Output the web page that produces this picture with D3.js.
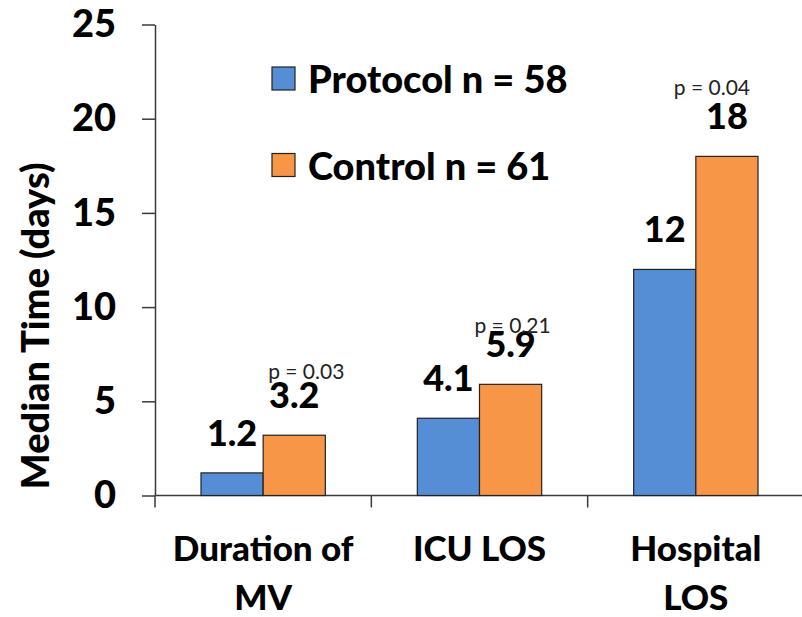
<!DOCTYPE html>
<html>
<head>
<meta charset="utf-8">
<script src="https://cdn.jsdelivr.net/npm/d3@7"></script>
<style>
  body { margin: 0; background: #fff; }
  text { font-family: Lato, "Open Sans", sans-serif; }
  .heavy { font-weight: 900; }
</style>
</head>
<body>
<div class="chart"></div>
<script>
// chart data
let categories = [["Duration of", "MV"], ["ICU LOS"], ["Hospital", "LOS"]];
let seriesNames = ["Protocol n = 58", "Control n = 61"];
let protocol = [1.2, 4.1, 12];
let control = [3.2, 5.9, 18];
let pLabels = ["p = 0.03", "p = 0.21", "p = 0.04"];
let yTicks = [0, 5, 10, 15, 20, 25];
let colors = ["#558ED5", "#F79646"];

// p labels were hand placed in the original, nudge them the same way
let pNudge = [[12, 56], [2, 51], [-15, 61]];

let w = 802;
let h = 617;

let svg = d3.select(".chart")
            .append("svg")
            .attr("width", w)
            .attr("height", h);

let x0 = d3.scaleBand()
  .domain(d3.range(categories.length))
  .range([155, 804]);

let x1 = d3.scaleBand()
  .domain([0, 1])
  .range([46, x0.bandwidth() - 46]);

let y = d3.scaleLinear()
  .domain([0, 25])
  .range([495.5, 24.5]);

// y axis
let yAxis = d3.axisLeft(y)
  .tickValues(yTicks)
  .tickSize(13)
  .tickPadding(26)
  .tickSizeOuter(0);

let gy = svg.append("g")
  .attr("transform", "translate(155,0)")
  .call(yAxis);
gy.select(".domain").attr("stroke", "#3a3a3a").attr("stroke-width", 1.5);
gy.selectAll(".tick line").attr("stroke", "#3a3a3a").attr("stroke-width", 1.5);
gy.selectAll(".tick text")
  .attr("class", "heavy")
  .attr("fill", "#000")
  .style("font-size", "38px")
  .style("font-family", "Lato, sans-serif");

// x axis line + band boundary ticks
svg.append("line")
  .attr("x1", 155).attr("x2", 802)
  .attr("y1", y(0)).attr("y2", y(0))
  .attr("stroke", "#3a3a3a").attr("stroke-width", 1.5);

svg.selectAll(".xtick")
  .data(d3.range(categories.length))
  .enter()
  .append("line")
  .attr("class", "xtick")
  .attr("x1", d => x0(d)).attr("x2", d => x0(d))
  .attr("y1", y(0)).attr("y2", y(0) + 12)
  .attr("stroke", "#3a3a3a").attr("stroke-width", 1.5);

// category labels
let catG = svg.selectAll(".cat")
  .data(categories)
  .enter()
  .append("text")
  .attr("class", "cat heavy")
  .attr("text-anchor", "middle")
  .style("font-size", "35px");
catG.selectAll("tspan")
  .data((d, i) => d.map(line => ({ line: line, i: i })))
  .enter()
  .append("tspan")
  .attr("x", d => x0(d.i) + x0.bandwidth() / 2)
  .attr("y", (d, j) => 561 + j * 48.5)
  .text(d => d.line);

// bars
let groups = svg.selectAll(".grp")
  .data(d3.range(categories.length))
  .enter()
  .append("g")
  .attr("class", "grp")
  .attr("transform", d => "translate(" + x0(d) + ",0)");

groups.selectAll("rect")
  .data(i => [protocol[i], control[i]])
  .enter()
  .append("rect")
  .attr("x", (d, s) => x1(s))
  .attr("y", d => y(d))
  .attr("width", x1.bandwidth())
  .attr("height", d => y(0) - y(d))
  .attr("fill", (d, s) => colors[s])
  .attr("stroke", "#222")
  .attr("stroke-width", 1.2);

// value labels
groups.selectAll(".val")
  .data(i => [protocol[i], control[i]])
  .enter()
  .append("text")
  .attr("class", "val heavy")
  .attr("x", (d, s) => x1(s) + x1.bandwidth() / 2)
  .attr("y", d => y(d) - 27)
  .attr("text-anchor", "middle")
  .style("font-size", "36px")
  .text(d => d);

// p values
groups.append("text")
  .attr("x", i => x1(1) + x1.bandwidth() / 2 + pNudge[i][0])
  .attr("y", i => y(control[i]) - pNudge[i][1])
  .attr("text-anchor", "middle")
  .attr("fill", "#222")
  .style("font-size", "21px")
  .text(i => pLabels[i]);

// legend
let legend = svg.selectAll(".leg")
  .data(seriesNames)
  .enter()
  .append("g")
  .attr("class", "leg")
  .attr("transform", (d, i) => "translate(272," + (67 + i * 86.5) + ")");
legend.append("rect")
  .attr("width", 23).attr("height", 23)
  .attr("fill", (d, i) => colors[i])
  .attr("stroke", "#222").attr("stroke-width", 1.2);
legend.append("text")
  .attr("class", "heavy")
  .attr("x", 36).attr("y", 26)
  .style("font-size", "38px")
  .text(d => d);

// y axis title
svg.append("text")
  .attr("class", "heavy")
  .attr("transform", "translate(49,326) rotate(-90)")
  .attr("text-anchor", "middle")
  .style("font-size", "38px")
  .text("Median Time (days)");
</script>
</body>
</html>
